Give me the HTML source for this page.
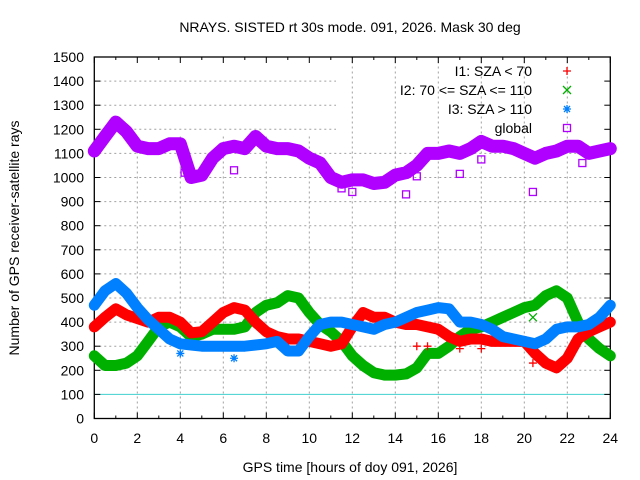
<!DOCTYPE html>
<html><head><meta charset="utf-8"><style>
body{margin:0;background:#fff}
svg{display:block;font-family:"Liberation Sans",sans-serif}
</style></head><body>
<svg id="chart" width="640" height="480">
<text x="350" y="32" text-anchor="middle" font-size="14">NRAYS. SISTED rt 30s mode. 091, 2026. Mask 30 deg</text>
<text x="350" y="472" text-anchor="middle" font-size="14">GPS time [hours of doy 091, 2026]</text>
<text x="19" y="238" text-anchor="middle" font-size="14" transform="rotate(-90 19 238)">Number of GPS receiver-satellite rays</text>
<g id="grid"></g><g id="axes"></g><g id="series"></g><g id="legend"></g>
</svg>
<script>
const hours=[0,0.5,1,1.5,2,2.5,3,3.5,4,4.5,5,5.5,6,6.5,7,7.5,8,8.5,9,9.5,10,10.5,11,11.5,12,12.5,13,13.5,14,14.5,15,15.5,16,16.5,17,17.5,18,18.5,19,19.5,20,20.5,21,21.5,22,22.5,23,23.5,24];
const i1=[380,420,455,430,415,400,420,420,400,355,360,400,440,460,450,400,360,340,330,330,320,310,300,310,380,440,420,420,400,390,390,380,370,340,320,330,330,320,320,320,320,270,230,210,250,330,360,380,400];
const i2=[260,220,220,230,260,320,380,400,380,340,350,370,370,370,380,440,470,480,510,500,440,390,360,320,260,220,190,180,180,185,210,270,270,300,340,370,380,400,420,440,460,470,510,530,500,400,330,290,260];
const i3=[470,530,560,520,460,410,370,330,310,305,300,300,300,300,300,305,310,320,280,280,340,390,400,400,390,380,370,390,400,420,440,450,460,455,400,400,390,370,340,330,320,310,330,370,380,380,390,420,470];
const glob=[1110,1170,1230,1190,1130,1120,1120,1140,1140,1000,1010,1080,1120,1130,1120,1170,1130,1120,1120,1110,1080,1060,1000,980,990,990,975,980,1010,1020,1050,1100,1100,1110,1100,1120,1150,1130,1130,1120,1100,1080,1100,1110,1130,1130,1100,1110,1120];
const globOutH=[4.2,6.5,11.5,12,14.5,15,17,18,20.4,22.7];
const globOutV=[1020,1030,955,940,930,1005,1015,1075,940,1060];
const i1OutH=[15,15.5,17,18,20.4];
const i1OutV=[300,300,290,290,230];
const i3OutH=[4,6.5];
const i3OutV=[270,250];
const i2OutH=[20.4];
const i2OutV=[420];
const xTicks=[0,2,4,6,8,10,12,14,16,18,20,22,24];
const yTicks=[0,100,200,300,400,500,600,700,800,900,1000,1100,1200,1300,1400,1500];
const NS='http://www.w3.org/2000/svg';
const X0=94.3,X1=610.3,Y0=418.5,Y1=57;
const xs=h=>X0+(X1-X0)*h/24, ys=v=>Y0-(Y0-Y1)*v/1500;
function mk(tag,attrs,parent){const e=document.createElementNS(NS,tag);for(const k in attrs)e.setAttribute(k,attrs[k]);parent.appendChild(e);return e;}
const grid=document.getElementById('grid'),axes=document.getElementById('axes'),ser=document.getElementById('series'),leg=document.getElementById('legend');
yTicks.forEach(v=>{const y=ys(v);
 if(v>0&&v<1500&&v!==100){const xe=(v>=1200)?336:X1;const l=mk('line',{x1:X0,x2:xe,y1:y,y2:y,stroke:'#a0a0a0','stroke-dasharray':'2,3'},grid);
 
 }
 const t=mk('text',{x:84,y:y+5,'text-anchor':'end','font-size':14},axes);t.textContent=v;
 
 
 mk('line',{x1:X0,x2:X0+6,y1:y,y2:y,stroke:'#000'},axes);mk('line',{x1:X1,x2:X1-6,y1:y,y2:y,stroke:'#000'},axes);
});
xTicks.forEach(h=>{const x=xs(h);
 if(h>0&&h<24){const ye=(h>=12)?Y1:136;const l=mk('line',{x1:x,x2:x,y1:Y0,y2:ye,stroke:'#a0a0a0','stroke-dasharray':'2,3'},grid);
 
 }
 const t=mk('text',{x:x,y:443,'text-anchor':'middle','font-size':14},axes);t.textContent=h;
 
 
 mk('line',{x1:x,x2:x,y1:Y0,y2:Y0-6,stroke:'#000'},axes);mk('line',{x1:x,x2:x,y1:Y1,y2:Y1+6,stroke:'#000'},axes);
 if(h<24){const xm=xs(h+1);mk('line',{x1:xm,x2:xm,y1:Y0,y2:Y0-3,stroke:'#000'},axes);mk('line',{x1:xm,x2:xm,y1:Y1,y2:Y1+3,stroke:'#000'},axes);}
});
const ref=mk('line',{x1:X0,x2:X1,y1:ys(100),y2:ys(100),stroke:'#40d0d0','stroke-width':1},grid);


const frame=mk('rect',{x:X0,y:Y1,width:X1-X0,height:Y0-Y1,fill:'none',stroke:'#000','stroke-width':1.3},axes);


function series(vals,color,name,w){const pts=hours.map((h,i)=>xs(h).toFixed(1)+','+ys(vals[i]).toFixed(1)).join(' ');
 const p=mk('polyline',{points:pts,fill:'none',stroke:color,'stroke-width':w,'stroke-linejoin':'round','stroke-linecap':'round'},ser);
 
 }
function cross(x,y,c,g){mk('path',{d:`M${x-4} ${y}h8M${x} ${y-4}v8`,stroke:c,'stroke-width':1.3},g);}
function xmark(x,y,c,g){mk('path',{d:`M${x-4} ${y-4}l8 8M${x-4} ${y+4}l8 -8`,stroke:c,'stroke-width':1.3},g);}
function star(x,y,c,g){mk('path',{d:`M${x-4} ${y}h8M${x} ${y-4}v8M${x-3} ${y-3}l6 6M${x-3} ${y+3}l6 -6`,stroke:c,'stroke-width':1.3},g);}
function sq(x,y,c,g){mk('rect',{x:x-3.5,y:y-3.5,width:7,height:7,fill:'none',stroke:c,'stroke-width':1.3},g);}
series(glob,'#b000ff','series-global',13);
series(i2,'#00b000','series-i2',11);
series(i1,'#ff0000','series-i1',11);
series(i3,'#0080ff','series-i3',11);
const out=mk('g',{},ser);


globOutH.forEach((h,i)=>sq(xs(h),ys(globOutV[i]),'#b000ff',out));
i1OutH.forEach((h,i)=>cross(xs(h),ys(i1OutV[i]),'#ff0000',out));
i3OutH.forEach((h,i)=>star(xs(h),ys(i3OutV[i]),'#0080ff',out));
i2OutH.forEach((h,i)=>xmark(xs(h),ys(i2OutV[i]),'#00b000',out));
const legItems=[['I1: SZA < 70','#ff0000',cross],['I2: 70 <= SZA <= 110','#00b000',xmark],['I3: SZA > 110','#0080ff',star],['global','#b000ff',sq]];
legItems.forEach((it,i)=>{const y=71+i*19;const g=mk('g',{},leg);
 
 
 const t=mk('text',{x:532,y:y+5,'text-anchor':'end','font-size':14},g);t.textContent=it[0];
 it[2](567,y,it[1],g);});
</script>
</body></html>
